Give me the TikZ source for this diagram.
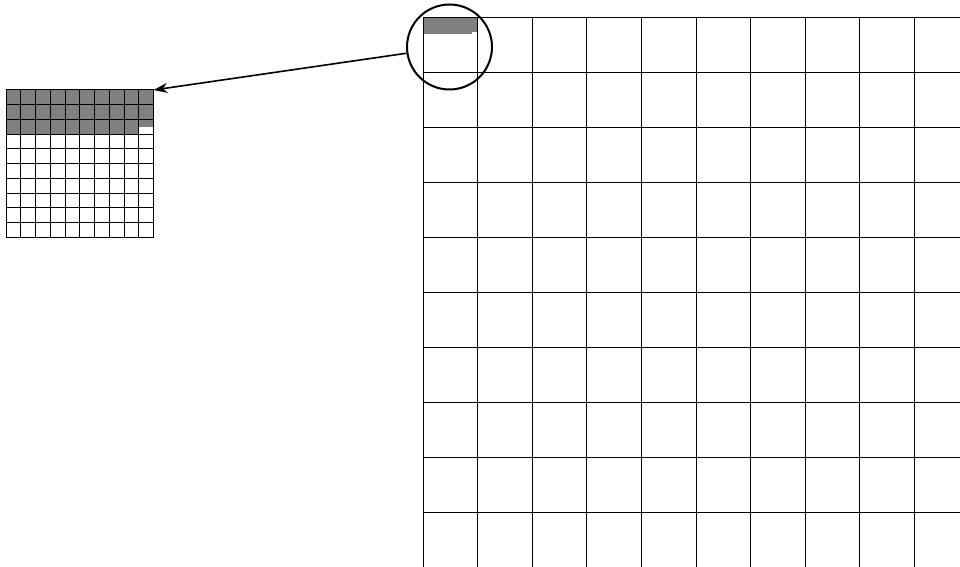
\documentclass[tikz,border=0pt]{standalone}
\usetikzlibrary{arrows.meta}
\definecolor{ZoomGray}{RGB}{128,128,128}
\begin{document}
\begin{tikzpicture}[
    x=0.5pt,
    y=-0.5pt,
    gridline/.style={line width=0.5pt},
    zoomfill/.style={fill=ZoomGray},
    lens/.style={
        circle,
        draw,
        line width=1pt,
        minimum size=42.5pt,
        inner sep=0pt
    },
    pointer/.style={
        -{Stealth[length=7pt,width=5pt]},
        line width=0.8pt
    }
]
\useasboundingbox (0,0) rectangle (960,567);
\clip (0,0) rectangle (960,567);

% magnified view of the first cell
\fill[zoomfill] (6,90) rectangle (153.5,119.5);
\fill[zoomfill] (6,119.5) rectangle (138.75,134.25);
\fill[zoomfill] (138.75,119.5) rectangle (153.5,126.9);
\foreach \i in {0,...,10}
    \draw[gridline] ({6+14.75*\i},90) -- ({6+14.75*\i},237.5);
\foreach \j in {0,...,10}
    \draw[gridline] (6,{90+14.75*\j}) -- (153.5,{90+14.75*\j});

% large grid
\fill[zoomfill] (423,18) rectangle (472.1,34.5);
\fill[zoomfill] (472.1,18) rectangle (477.6,31.7);
\foreach \i in {0,...,10}
    \draw[gridline] ({423+54.6*\i},18) -- ({423+54.6*\i},567);
\foreach \j in {0,...,10}
    \draw[gridline] (423,{18+54.9*\j}) -- (960,{18+54.9*\j});

% lens and pointer
\node[lens] (lens) at (449.5,47) {};
\coordinate (inset) at (153.5,90);
\draw[pointer] (lens) -- (inset);

\end{tikzpicture}
\end{document}
